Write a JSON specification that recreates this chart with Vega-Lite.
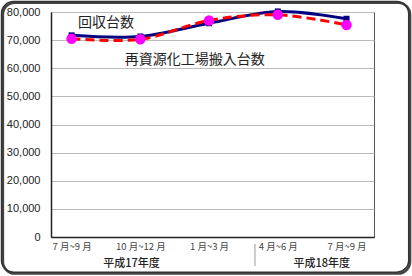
{
  "$schema": "https://vega.github.io/schema/vega-lite/v6.json",
  "width": 323,
  "height": 225,
  "autosize": "none",
  "padding": {"left": 51, "top": 12, "right": 38, "bottom": 39},
  "background": "#ffffff",
  "config": {
    "view": {"stroke": "#555555", "strokeWidth": 1},
    "font": "Liberation Sans"
  },
  "datasets": {
    "series": [
      {"period": "7月~9月", "i": 0, "series": "回収台数", "value": 71700},
      {"period": "10月~12月", "i": 1, "series": "回収台数", "value": 71300},
      {"period": "1月~3月", "i": 2, "series": "回収台数", "value": 76000},
      {"period": "4月~6月", "i": 3, "series": "回収台数", "value": 80200},
      {"period": "7月~9月", "i": 4, "series": "回収台数", "value": 77600},
      {"period": "7月~9月", "i": 0, "series": "再資源化工場搬入台数", "value": 70500},
      {"period": "10月~12月", "i": 1, "series": "再資源化工場搬入台数", "value": 70300},
      {"period": "1月~3月", "i": 2, "series": "再資源化工場搬入台数", "value": 77000},
      {"period": "4月~6月", "i": 3, "series": "再資源化工場搬入台数", "value": 79000},
      {"period": "7月~9月", "i": 4, "series": "再資源化工場搬入台数", "value": 75400}
    ],
    "notes": [
      {"label": "回収台数", "i": 0.5, "value": 76100},
      {"label": "再資源化工場搬入台数", "i": 1.79, "value": 62900}
    ],
    "groups": [
      {"label": "平成17年度", "i": 0.87, "value": -9600},
      {"label": "平成18年度", "i": 3.64, "value": -9600}
    ],
    "one": [{}]
  },
  "encoding": {
    "x": {
      "type": "quantitative",
      "scale": {"domain": [-0.3, 4.4], "nice": false, "zero": false},
      "axis": {
        "tickCount": 5,
        "labelExpr": "datum.value == 0 ? '7 月~9 月' : datum.value == 1 ? '10 月~12 月' : datum.value == 2 ? '1 月~3 月' : datum.value == 3 ? '4 月~6 月' : datum.value == 4 ? '7 月~9 月' : ''",
        "title": null, "grid": false, "ticks": false,
        "domainColor": "#222222", "domainWidth": 1.5,
        "labelFont": "Noto Sans CJK JP", "labelFontSize": 9.5, "labelColor": "#444444",
        "labelPadding": 4, "labelFlush": false, "labelOverlap": false
      }
    },
    "y": {
      "type": "quantitative",
      "scale": {"domain": [0, 80000], "nice": false},
      "axis": {
        "tickCount": 8,
        "format": ",d", "title": null, "ticks": false,
        "gridColor": "#bbbbbb", "gridWidth": 1,
        "domainColor": "#222222", "domainWidth": 1.5,
        "labelFont": "Liberation Sans", "labelFontSize": 11, "labelColor": "#222222",
        "labelPadding": 11, "labelOverlap": false, "labelFlush": false
      }
    }
  },
  "layer": [
    {
      "data": {"name": "series"},
      "transform": [{"filter": "datum.series === '回収台数'"}],
      "mark": {"type": "line", "interpolate": "catmull-rom", "color": "#000080", "strokeWidth": 3},
      "encoding": {
        "x": {"field": "i"},
        "y": {"field": "value"}
      }
    },
    {
      "data": {"name": "one"},
      "mark": {"type": "rect", "fill": null, "stroke": "#444444", "strokeWidth": 2.5, "cornerRadius": 12},
      "encoding": {
        "x": {"datum": -1.0},
        "x2": {"datum": 4.925},
        "y": {"datum": 83300},
        "y2": {"datum": -13000}
      }
    },
    {
      "data": {"name": "one"},
      "mark": {"type": "rect", "fill": null, "stroke": "#333333", "strokeWidth": 1.5, "cornerRadius": 12},
      "encoding": {
        "x": {"datum": -1.02},
        "x2": {"datum": 4.905},
        "y": {"datum": 83700},
        "y2": {"datum": -12500}
      }
    },
    {
      "data": {"name": "series"},
      "transform": [{"filter": "datum.series === '回収台数'"}],
      "mark": {"type": "square", "color": "#000080", "size": 36, "opacity": 1},
      "encoding": {
        "x": {"field": "i"},
        "y": {"field": "value"}
      }
    },
    {
      "data": {"name": "series"},
      "transform": [{"filter": "datum.series === '再資源化工場搬入台数'"}],
      "mark": {"type": "line", "interpolate": "catmull-rom", "color": "#ff0000", "strokeWidth": 3, "strokeDash": [9, 5]},
      "encoding": {
        "x": {"field": "i"},
        "y": {"field": "value"}
      }
    },
    {
      "data": {"name": "series"},
      "transform": [{"filter": "datum.series === '再資源化工場搬入台数'"}],
      "mark": {"type": "circle", "color": "#ff00ff", "size": 110, "opacity": 1},
      "encoding": {
        "x": {"field": "i"},
        "y": {"field": "value"}
      }
    },
    {
      "data": {"name": "notes"},
      "mark": {"type": "text", "font": "Noto Sans CJK JP", "fontSize": 14, "color": "#222222", "align": "center", "baseline": "middle"},
      "encoding": {
        "x": {"field": "i"},
        "y": {"field": "value"},
        "text": {"field": "label"}
      }
    },
    {
      "data": {"name": "groups"},
      "mark": {"type": "text", "font": "Noto Sans CJK JP", "fontSize": 11, "fontWeight": 500, "color": "#222222", "align": "center", "baseline": "middle"},
      "encoding": {
        "x": {"field": "i"},
        "y": {"field": "value"},
        "text": {"field": "label"}
      }
    },
    {
      "data": {"name": "one"},
      "mark": {"type": "rule", "color": "#999999", "strokeWidth": 1},
      "encoding": {
        "x": {"datum": 2.668},
        "y": {"datum": -2500},
        "y2": {"datum": -10300}
      }
    }
  ]
}
